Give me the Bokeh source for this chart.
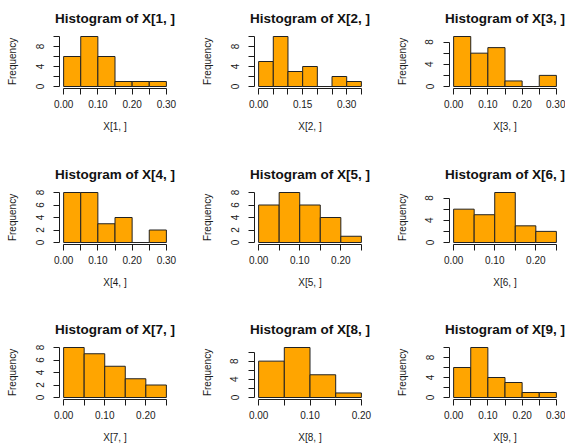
from bokeh.plotting import figure
from bokeh.layouts import gridplot
from bokeh.models import Range1d, FixedTicker
from bokeh.embed import file_html
from bokeh.resources import INLINE

# ---- data ----
edges_x1 = [0.00, 0.05, 0.10, 0.15, 0.20, 0.25, 0.30]
counts_x1 = [6, 10, 6, 1, 1, 1]
edges_x2 = [0.00, 0.05, 0.10, 0.15, 0.20, 0.25, 0.30, 0.35]
counts_x2 = [5, 10, 3, 4, 0, 2, 1]
edges_x3 = [0.00, 0.05, 0.10, 0.15, 0.20, 0.25, 0.30]
counts_x3 = [9, 6, 7, 1, 0, 2]
edges_x4 = [0.00, 0.05, 0.10, 0.15, 0.20, 0.25, 0.30]
counts_x4 = [8, 8, 3, 4, 0, 2]
edges_x5 = [0.00, 0.05, 0.10, 0.15, 0.20, 0.25]
counts_x5 = [6, 8, 6, 4, 1]
edges_x6 = [0.00, 0.05, 0.10, 0.15, 0.20, 0.25]
counts_x6 = [6, 5, 9, 3, 2]
edges_x7 = [0.00, 0.05, 0.10, 0.15, 0.20, 0.25]
counts_x7 = [8, 7, 5, 3, 2]
edges_x8 = [0.00, 0.05, 0.10, 0.15, 0.20]
counts_x8 = [8, 11, 5, 1]
edges_x9 = [0.00, 0.05, 0.10, 0.15, 0.20, 0.25, 0.30]
counts_x9 = [6, 10, 4, 3, 1, 1]

yticks_10 = [0, 2, 4, 6, 8, 10]
yticks_8 = [0, 2, 4, 6, 8]
ylabels_sparse = [0, 4, 8]
ylabels_full = [0, 2, 4, 6, 8]

xlabels_a = [0.00, 0.10, 0.20, 0.30]
xlabels_b = [0.00, 0.15, 0.30]
xlabels_c = [0.00, 0.10, 0.20]

titles = ["Histogram of X[%d, ]" % i for i in range(1, 10)]
xnames = ["X[%d, ]" % i for i in range(1, 10)]

panels = [
    (edges_x1, counts_x1, yticks_10, ylabels_sparse, xlabels_a),
    (edges_x2, counts_x2, yticks_10, ylabels_sparse, xlabels_b),
    (edges_x3, counts_x3, yticks_8, ylabels_sparse, xlabels_a),
    (edges_x4, counts_x4, yticks_8, ylabels_full, xlabels_a),
    (edges_x5, counts_x5, yticks_8, ylabels_full, xlabels_c),
    (edges_x6, counts_x6, yticks_8, ylabels_sparse, xlabels_c),
    (edges_x7, counts_x7, yticks_8, ylabels_full, xlabels_c),
    (edges_x8, counts_x8, yticks_10, ylabels_sparse, xlabels_c),
    (edges_x9, counts_x9, yticks_10, ylabels_sparse, xlabels_a),
]

# ---- layout ----
COL_W = [195, 195, 175]
ROW_H = [156, 155, 135]
LEFT = 59
TOP = 32
FRAME_W = 111
FRAME_H = 56
FONT = "Liberation Sans"
INK = "#1a1a1a"


def make(k, edges, counts, yticks, ylabels, xlabels):
    row, col = divmod(k, 3)
    w, h = COL_W[col], ROW_H[row]
    x0, x1 = edges[0], edges[-1]
    span = x1 - x0
    ymax = max(counts)
    p = figure(width=w, height=h, output_backend="svg", toolbar_location=None,
               x_range=Range1d(x0 - 0.04 * span, x1 + 0.04 * span),
               y_range=Range1d(-0.04 * ymax, 1.04 * ymax),
               min_border_left=LEFT, min_border_right=w - LEFT - FRAME_W,
               min_border_top=TOP, min_border_bottom=h - TOP - FRAME_H,
               title=titles[k])
    p.outline_line_color = None
    p.grid.visible = False
    p.background_fill_color = "white"
    p.border_fill_color = "white"

    p.title.text_font = FONT
    p.title.text_font_style = "bold"
    p.title.text_font_size = "13.5px"
    p.title.text_color = "#111111"
    p.title.align = "center"
    p.title.standoff = 17

    p.quad(left=edges[:-1], right=edges[1:], bottom=0, top=counts,
           fill_color="#FFA500", line_color="#222222", line_width=1)

    xa = p.xaxis[0]
    xa.ticker = FixedTicker(ticks=edges, minor_ticks=[])
    xa.bounds = (x0, x1)
    lab = [round(v, 2) for v in xlabels]
    xa.major_label_overrides = {t: ("%.2f" % t if round(t, 2) in lab else "") for t in edges}
    xa.axis_label = xnames[k]

    ya = p.yaxis[0]
    ya.ticker = FixedTicker(ticks=yticks, minor_ticks=[])
    ya.bounds = (yticks[0], yticks[-1])
    ya.major_label_overrides = {t: (str(t) if t in ylabels else "") for t in yticks}
    ya.axis_label = "Frequency"
    ya.major_label_orientation = "vertical"

    for ax in (xa, ya):
        ax.axis_line_color = INK
        ax.major_tick_line_color = INK
        ax.major_tick_in = 0
        ax.major_tick_out = 6
        ax.minor_tick_line_color = None
        ax.major_label_text_font = FONT
        ax.major_label_text_font_size = "10px"
        ax.major_label_text_color = INK
        ax.axis_label_text_font = FONT
        ax.axis_label_text_font_size = "10px"
        ax.axis_label_text_font_style = "normal"
        ax.axis_label_text_color = INK
    xa.major_label_standoff = 5
    xa.axis_label_standoff = 10
    ya.major_label_standoff = 10
    ya.axis_label_standoff = 15
    return p


figs = [make(k, *panels[k]) for k in range(9)]
grid = gridplot([figs[0:3], figs[3:6], figs[6:9]], toolbar_location=None)

open("out.html", "w").write(file_html(grid, INLINE))
